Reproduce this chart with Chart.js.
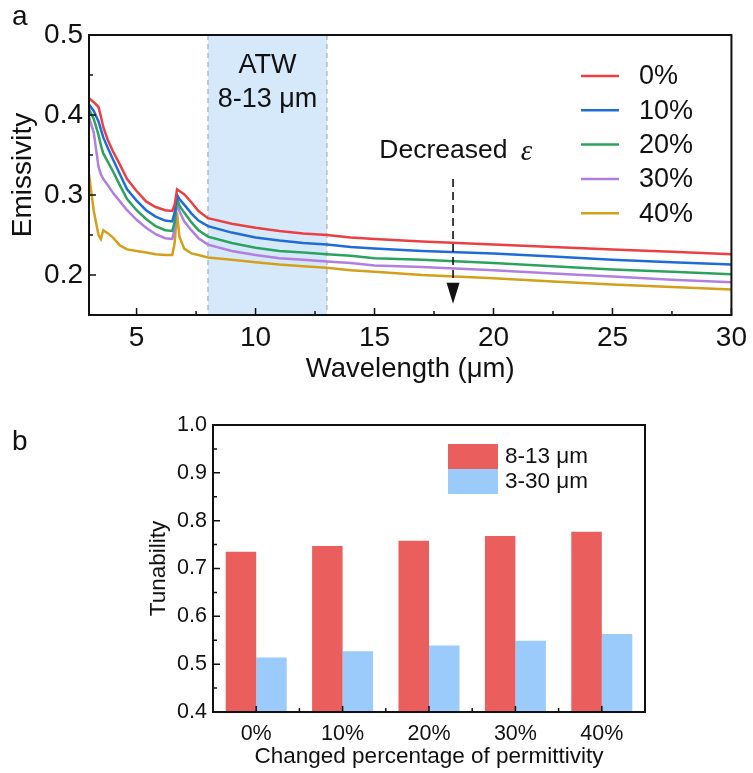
<!DOCTYPE html>
<html>
<head>
<meta charset="utf-8">
<script src="https://cdn.jsdelivr.net/npm/chart.js@4/dist/chart.umd.min.js"></script>
<style>
  html, body { margin: 0; padding: 0; background: #fff; }
  #wrap { position: relative; width: 753px; height: 773px; }
  #top { position: absolute; left: 0; top: 0; }
  #bottom { position: absolute; left: 0; top: 400px; }
</style>
</head>
<body>
<div id="wrap">
  <canvas id="top" width="753" height="400"></canvas>
  <canvas id="bottom" width="753" height="373"></canvas>
</div>
<script>
// panel a: emissivity spectra
const wavelength = [3, 3.2, 3.4, 3.5, 3.6, 3.8, 4, 4.3, 4.6, 5, 5.4, 5.8, 6.2, 6.5, 6.6, 6.7, 6.8, 7, 7.3, 7.6, 8, 9, 10, 11, 12, 13, 14, 15, 17, 20, 22.5, 25, 27.5, 30];
const eps0  = [0.421, 0.416, 0.410, 0.398, 0.385, 0.368, 0.355, 0.338, 0.320, 0.305, 0.292, 0.285, 0.281, 0.280, 0.288, 0.307, 0.305, 0.301, 0.291, 0.280, 0.271, 0.264, 0.259, 0.255, 0.252, 0.250, 0.247, 0.245, 0.242, 0.238, 0.235, 0.232, 0.229, 0.226];
const eps10 = [0.413, 0.405, 0.392, 0.382, 0.372, 0.358, 0.345, 0.326, 0.307, 0.293, 0.281, 0.273, 0.268, 0.267, 0.278, 0.300, 0.295, 0.288, 0.277, 0.268, 0.261, 0.253, 0.247, 0.243, 0.240, 0.238, 0.235, 0.233, 0.230, 0.227, 0.223, 0.219, 0.216, 0.213];
const eps20 = [0.407, 0.395, 0.375, 0.362, 0.352, 0.341, 0.330, 0.312, 0.295, 0.281, 0.270, 0.261, 0.256, 0.255, 0.266, 0.296, 0.287, 0.278, 0.266, 0.256, 0.248, 0.240, 0.234, 0.230, 0.228, 0.226, 0.224, 0.221, 0.219, 0.215, 0.211, 0.207, 0.204, 0.201];
const eps30 = [0.397, 0.378, 0.335, 0.326, 0.320, 0.312, 0.303, 0.292, 0.281, 0.269, 0.259, 0.251, 0.246, 0.245, 0.257, 0.292, 0.280, 0.267, 0.256, 0.246, 0.238, 0.230, 0.225, 0.221, 0.219, 0.217, 0.215, 0.212, 0.210, 0.206, 0.202, 0.198, 0.194, 0.191];
const eps40 = [0.326, 0.280, 0.250, 0.245, 0.256, 0.252, 0.247, 0.237, 0.232, 0.230, 0.228, 0.226, 0.225, 0.225, 0.240, 0.278, 0.248, 0.233, 0.227, 0.225, 0.222, 0.219, 0.216, 0.213, 0.211, 0.209, 0.206, 0.204, 0.200, 0.196, 0.192, 0.188, 0.185, 0.182];
const seriesLabels = ['0%', '10%', '20%', '30%', '40%'];
const seriesColors = ['#ea4043', '#1f6cd6', '#2ba35e', '#b07fe0', '#d3a01c'];

// panel b: tunability
const groups = ['0%', '10%', '20%', '30%', '40%'];
const tunATW = [0.735, 0.747, 0.758, 0.768, 0.777];
const tunFull = [0.514, 0.527, 0.539, 0.549, 0.563];
const barLabels = ['8-13 \u03bcm', '3-30 \u03bcm'];
const barColors = ['#ea5e5e', '#9acbfa'];

const FONT = '"Liberation Sans", Arial, sans-serif';
const INK = '#111';

// box round the plot and inward ticks (major + minor)
function frameTicks(xMinor, yMinor, xCategory) {
  return {
    id: 'frameTicks',
    afterDraw(chart) {
      const { ctx, chartArea: a, scales } = chart;
      ctx.save();
      ctx.strokeStyle = INK;
      ctx.lineWidth = 2;
      ctx.strokeRect(a.left, a.top, a.right - a.left, a.bottom - a.top);
      ctx.lineWidth = 1.5;
      ctx.beginPath();
      scales.y.ticks.forEach(t => {
        const p = scales.y.getPixelForValue(t.value);
        ctx.moveTo(a.left, p); ctx.lineTo(a.left + 7, p);
      });
      yMinor.forEach(v => {
        const p = scales.y.getPixelForValue(v);
        ctx.moveTo(a.left, p); ctx.lineTo(a.left + 4, p);
      });
      if (xCategory) {
        scales.x.ticks.forEach((t, i) => {
          const p = scales.x.getPixelForValue(i);
          ctx.moveTo(p, a.bottom); ctx.lineTo(p, a.bottom - 6);
        });
      } else {
        scales.x.ticks.forEach(t => {
          const p = scales.x.getPixelForValue(t.value);
          ctx.moveTo(p, a.bottom); ctx.lineTo(p, a.bottom - 7);
        });
      }
      xMinor.forEach(v => {
        const p = scales.x.getPixelForValue(v);
        ctx.moveTo(p, a.bottom); ctx.lineTo(p, a.bottom - 4);
      });
      ctx.stroke();
      ctx.restore();
    }
  };
}

const bandPlugin = {
  id: 'band',
  beforeDatasetsDraw(chart) {
    const { ctx, chartArea: a, scales: { x, y } } = chart;
    const x1 = x.getPixelForValue(8), x2 = x.getPixelForValue(13);
    ctx.save();
    ctx.fillStyle = '#d6e9fa';
    ctx.fillRect(x1, a.top, x2 - x1, a.bottom - a.top);
    ctx.strokeStyle = '#aab4be';
    ctx.lineWidth = 1.3;
    ctx.setLineDash([5, 4]);
    ctx.beginPath();
    ctx.moveTo(x1, a.top); ctx.lineTo(x1, a.bottom);
    ctx.moveTo(x2, a.top); ctx.lineTo(x2, a.bottom);
    ctx.stroke();
    ctx.setLineDash([]);
    ctx.fillStyle = INK;
    ctx.font = '27px ' + FONT;
    ctx.textAlign = 'center';
    ctx.textBaseline = 'middle';
    const cx = (x1 + x2) / 2;
    ctx.fillText('ATW', cx, 66);
    ctx.fillText('8-13 \u03bcm', cx, 100);
    ctx.restore();
  }
};

const annotPlugin = {
  id: 'annot',
  afterDraw(chart) {
    const { ctx, chartArea: a, scales: { x, y } } = chart;
    ctx.save();
    ctx.fillStyle = INK;
    // panel letter
    ctx.font = '28px ' + FONT;
    ctx.textAlign = 'left';
    ctx.textBaseline = 'alphabetic';
    ctx.fillText('a', 12, 25);
    // decreased epsilon
    ctx.font = '26.5px ' + FONT;
    ctx.textBaseline = 'middle';
    const tx = x.getPixelForValue(15.2), ty = y.getPixelForValue(0.356);
    ctx.fillText('Decreased', tx, ty);
    const w = ctx.measureText('Decreased ').width;
    ctx.font = 'italic 29px "Liberation Serif", "Times New Roman", serif';
    ctx.fillText('\u03b5', tx + w + 6, ty + 2);
    // dashed arrow
    const ax = x.getPixelForValue(18.3);
    const yTop = y.getPixelForValue(0.32), yTip = y.getPixelForValue(0.164);
    ctx.strokeStyle = INK;
    ctx.lineWidth = 1.6;
    ctx.setLineDash([8, 5]);
    ctx.beginPath();
    ctx.moveTo(ax, yTop); ctx.lineTo(ax, yTip - 18);
    ctx.stroke();
    ctx.setLineDash([]);
    ctx.beginPath();
    ctx.moveTo(ax - 6.5, yTip - 21); ctx.lineTo(ax + 6.5, yTip - 21); ctx.lineTo(ax, yTip);
    ctx.closePath();
    ctx.fill();
    // legend
    ctx.font = '27px ' + FONT;
    ctx.textAlign = 'left';
    chart.data.datasets.forEach((ds, i) => {
      const ly = 76 + i * 34.3;
      ctx.strokeStyle = ds.borderColor;
      ctx.lineWidth = 2.5;
      ctx.beginPath();
      ctx.moveTo(581, ly); ctx.lineTo(619, ly);
      ctx.stroke();
      ctx.fillStyle = INK;
      ctx.fillText(ds.label, 639, ly + 1);
    });
    ctx.restore();
  }
};

const barLegendPlugin = {
  id: 'barLegend',
  afterDraw(chart) {
    const { ctx } = chart;
    ctx.save();
    ctx.fillStyle = INK;
    ctx.font = '28px ' + FONT;
    ctx.textBaseline = 'alphabetic';
    ctx.fillText('b', 12, 50);
    ctx.font = '22.5px ' + FONT;
    ctx.textBaseline = 'middle';
    chart.data.datasets.forEach((ds, i) => {
      const top = 44 + i * 25;
      ctx.fillStyle = ds.backgroundColor;
      ctx.fillRect(448, top, 50, 25);
      ctx.fillStyle = INK;
      ctx.fillText(ds.label, 505, top + 13);
    });
    ctx.restore();
  }
};

new Chart(document.getElementById('top'), {
  type: 'line',
  data: {
    datasets: seriesLabels.map((lab, i) => ({
      label: lab,
      data: wavelength.map((w, j) => ({ x: w, y: [eps0, eps10, eps20, eps30, eps40][i][j] })),
      borderColor: seriesColors[i],
      borderWidth: 2.5,
      pointRadius: 0,
      tension: 0,
      fill: false
    }))
  },
  options: {
    responsive: false,
    animation: false,
    layout: { padding: { left: 0, top: 35, right: 19, bottom: 0 } },
    plugins: { legend: { display: false }, tooltip: { enabled: false } },
    scales: {
      x: {
        type: 'linear', min: 3, max: 30,
        afterFit(s) { s.height = 85; },
        grid: { display: false, drawTicks: false },
        border: { display: false },
        ticks: { stepSize: 5, includeBounds: false, padding: 6, color: INK, font: { family: FONT, size: 28 } },
        title: { display: true, text: 'Wavelength (\u03bcm)', color: INK, font: { family: FONT, size: 27.5 }, padding: { top: 0, bottom: 14 } }
      },
      y: {
        min: 0.15, max: 0.5,
        afterFit(s) { s.width = 89; },
        grid: { display: false, drawTicks: false },
        border: { display: false },
        ticks: { stepSize: 0.1, includeBounds: false, padding: 6, color: INK, font: { family: FONT, size: 28 }, callback: v => v.toFixed(1) },
        title: { display: true, text: 'Emissivity', color: INK, font: { family: FONT, size: 28 }, padding: { top: 6, bottom: 0 } }
      }
    }
  },
  plugins: [bandPlugin, frameTicks([7.5, 12.5, 17.5, 22.5, 27.5], [0.25, 0.35, 0.45], false), annotPlugin]
});

new Chart(document.getElementById('bottom'), {
  type: 'bar',
  data: {
    labels: groups,
    datasets: [
      { label: barLabels[0], data: tunATW, backgroundColor: barColors[0], borderWidth: 0, categoryPercentage: 0.706, barPercentage: 1 },
      { label: barLabels[1], data: tunFull, backgroundColor: barColors[1], borderWidth: 0, categoryPercentage: 0.706, barPercentage: 1 }
    ]
  },
  options: {
    responsive: false,
    animation: false,
    layout: { padding: { left: 140, top: 25, right: 108, bottom: 0 } },
    plugins: { legend: { display: false }, tooltip: { enabled: false } },
    scales: {
      x: {
        afterFit(s) { s.height = 61; },
        grid: { display: false, drawTicks: false },
        border: { display: false },
        ticks: { padding: 9, color: INK, font: { family: FONT, size: 21.5 } },
        title: { display: true, text: 'Changed percentage of permittivity', color: INK, font: { family: FONT, size: 22.5 }, padding: { top: 0, bottom: 3 } }
      },
      y: {
        min: 0.4, max: 1.0,
        afterFit(s) { s.width = 73; },
        grid: { display: false, drawTicks: false },
        border: { display: false },
        ticks: { stepSize: 0.1, padding: 6, color: INK, font: { family: FONT, size: 21.5 }, callback: v => v.toFixed(1) },
        title: { display: true, text: 'Tunability', color: INK, font: { family: FONT, size: 22.5 }, padding: { top: 5, bottom: 0 } }
      }
    }
  },
  plugins: [frameTicks([0.5, 1.5, 2.5, 3.5], [0.45, 0.55, 0.65, 0.75, 0.85, 0.95], true), barLegendPlugin]
});
</script>
</body>
</html>
